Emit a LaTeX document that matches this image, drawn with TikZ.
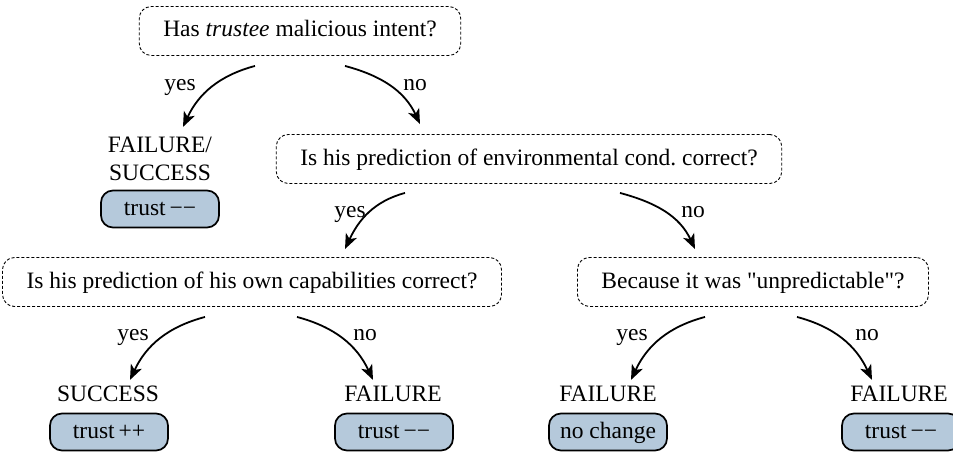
\documentclass[tikz,border=0pt]{standalone}
\usepackage{fontspec}
\setmainfont{Liberation Serif}[Ligatures=TeXOff]
\frenchspacing
\usetikzlibrary{arrows.meta}
\definecolor{leafblue}{HTML}{B5C9DB}
\begin{document}
\begin{tikzpicture}[x=1pt,y=-1pt,
  every node/.style={font=\fontsize{23.5}{28}\selectfont},
  decision/.style={draw, dash pattern=on 3pt off 2pt, line width=0.9pt, rounded corners=12pt,
     inner xsep=24pt, text height=17pt, text depth=5pt, minimum height=49pt},
  leaf/.style={draw, fill=leafblue, line width=1.7pt, rounded corners=12pt,
     minimum width=118pt, minimum height=37pt, inner xsep=10pt, text height=17pt, text depth=5pt},
  outcome/.style={inner sep=0pt, align=center},
  lbl/.style={inner sep=0pt, text height=15pt, text depth=5pt},
  arr/.style={line width=1.8pt, -{Stealth[length=15pt,width=12pt,inset=4pt]}},
]
\useasboundingbox (0,0) rectangle (953,452);
% decisions
\node[decision] (n1) at (300,31) {Has \textit{trustee} malicious intent?};
\node[decision] (n2) at (529,159) {Is his prediction of environmental cond. correct?};
\node[decision] (n3) at (252,282) {Is his prediction of his own capabilities correct?};
\node[decision] (n4) at (753,282) {Because it was "unpredictable"?};
% outcomes
\node[outcome] (o1) at (160,159) {FAILURE/\\SUCCESS};
\node[outcome] (o2) at (108,394) {SUCCESS};
\node[outcome] (o3) at (393,394) {FAILURE};
\node[outcome] (o4) at (608,394) {FAILURE};
\node[outcome] (o5) at (899,394) {FAILURE};
% leaves
\node[leaf] (b1) at (160,209) {trust\,−−};
\node[leaf] (b2) at (109,432) {trust\,++};
\node[leaf] (b3) at (394,432) {trust\,−−};
\node[leaf] (b4) at (608,432) {no change};
\node[leaf] (b5) at (901,432) {trust\,−−};
% labels
\node[lbl] (y1) at (180,85) {yes};
\node[lbl] (x1) at (415,85) {no};
\node[lbl] (y2) at (350,212) {yes};
\node[lbl] (x2) at (693,212) {no};
\node[lbl] (y3) at (133,335) {yes};
\node[lbl] (x3) at (365,335) {no};
\node[lbl] (y4) at (632,335) {yes};
\node[lbl] (x4) at (867,335) {no};
% arrows
\draw[arr] ([xshift=-45pt,yshift=-10pt]n1.south) to[out=195,in=65] ([xshift=23pt,yshift=10pt]o1.north);
\draw[arr] ([xshift=45pt,yshift=-10pt]n1.south) to[out=-15,in=115] ([xshift=-109pt,yshift=10pt]n2.north);
\draw[arr] ([xshift=-124pt,yshift=-9pt]n2.south) to[out=195,in=65] ([xshift=93pt,yshift=8pt]n3.north);
\draw[arr] ([xshift=91pt,yshift=-9pt]n2.south) to[out=-15,in=115] ([xshift=-58pt,yshift=8pt]n4.north);
\draw[arr] ([xshift=-47pt,yshift=-10pt]n3.south) to[out=195,in=65] ([xshift=22pt,yshift=6pt]o2.north);
\draw[arr] ([xshift=45pt,yshift=-10pt]n3.south) to[out=-15,in=115] ([xshift=-20pt,yshift=6pt]o3.north);
\draw[arr] ([xshift=-48pt,yshift=-10pt]n4.south) to[out=195,in=65] ([xshift=23pt,yshift=6pt]o4.north);
\draw[arr] ([xshift=44pt,yshift=-10pt]n4.south) to[out=-15,in=115] ([xshift=-27pt,yshift=6pt]o5.north);
\end{tikzpicture}
\end{document}
